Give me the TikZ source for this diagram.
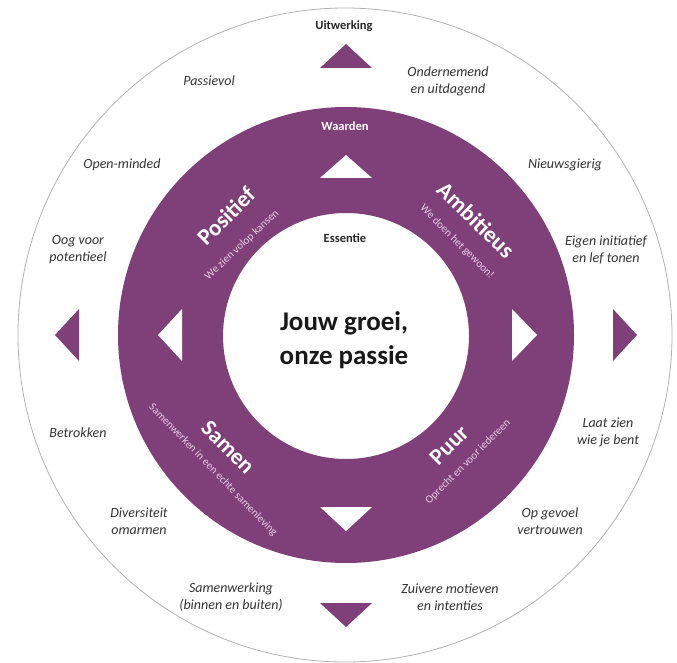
\documentclass[tikz,border=0pt]{standalone}
\usepackage{fontspec}
\setmainfont{Carlito}
\definecolor{plum}{RGB}{127,63,121}
\definecolor{plumtext}{RGB}{232,205,230}

\begin{document}
\begin{tikzpicture}[x=1pt, y=-1pt,
    trait/.style={font=\fontsize{14}{17}\selectfont\itshape, text=black!80, align=center, inner sep=0pt},
    value/.style={font=\fontsize{23}{26}\selectfont\bfseries, text=white, inner sep=0pt},
    motto/.style={font=\fontsize{11}{13}\selectfont, text=plumtext, inner sep=0pt},
    heading/.style={font=\fontsize{12.5}{14}\selectfont\bfseries, inner sep=0pt}]
    \useasboundingbox (0,0) rectangle (677,663);
    \fill[white] (0,0) rectangle (677,663);
    \draw[gray!60, line width=0.8pt] (345,335) circle (327pt);
    \fill[plum, even odd rule] (346,335) circle (228pt) (346,336) circle (123pt);
    \fill[plum] (320,68) -- (372,68) -- (346,44) -- cycle;
    \fill[plum] (320,603) -- (372,603) -- (346,627) -- cycle;
    \fill[plum] (79,309) -- (79,361) -- (55,335) -- cycle;
    \fill[plum] (613,309) -- (613,361) -- (637,335) -- cycle;
    \fill[white] (320,178) -- (372,178) -- (346,155) -- cycle;
    \fill[white] (320,507) -- (372,507) -- (346,531) -- cycle;
    \fill[white] (182,309) -- (182,361) -- (158,335) -- cycle;
    \fill[white] (512,309) -- (512,361) -- (537,335) -- cycle;

    \node[heading, text=black!85] (uitwerking) at (344,26) {Uitwerking};
    \node[heading, text=white] (waarden) at (345,126) {Waarden};
    \node[heading, text=black!85] (essentie) at (345,238) {Essentie};
    \node[font=\fontsize{27}{34}\selectfont\bfseries, text=black!90, align=center, inner sep=0pt] (kern) at (344,340) {Jouw groei,\\onze passie};

    \node[value, rotate=45] (positief) at (226,216) {Positief};
    \node[motto, rotate=43] (positiefm) at (242,245) {We zien volop kansen};
    \node[value, rotate=-44] (ambitieus) at (476,220) {Ambitieus};
    \node[motto, rotate=-45] (ambitieusm) at (457,242) {We doen het gewoon!};
    \node[value, rotate=-45] (samen) at (228,447) {Samen};
    \node[motto, rotate=-46] (samenm) at (213,470) {Samenwerken in een echte samenleving};
    \node[value, rotate=45] (puur) at (449,445) {Puur};
    \node[motto, rotate=45] (puurm) at (468,462) {Oprecht en voor iedereen};

    \node[trait] (passievol) at (209,81) {Passievol};
    \node[trait] (ondernemend) at (448,81) {Ondernemend\\en uitdagend};
    \node[trait] (openminded) at (122,165) {Open-minded};
    \node[trait] (nieuwsgierig) at (565,165) {Nieuwsgierig};
    \node[trait] (oog) at (78,250) {Oog voor\\potentieel};
    \node[trait] (initiatief) at (606,250) {Eigen initiatief\\en lef tonen};
    \node[trait] (betrokken) at (78,433) {Betrokken};
    \node[trait] (laatzien) at (608,432) {Laat zien\\wie je bent};
    \node[trait] (diversiteit) at (139,521) {Diversiteit\\omarmen};
    \node[trait] (gevoel) at (550,521) {Op gevoel\\vertrouwen};
    \node[trait] (samenwerking) at (231,597) {Samenwerking\\(binnen en buiten)};
    \node[trait] (zuivere) at (450,597) {Zuivere motieven\\en intenties};
\end{tikzpicture}
\end{document}
